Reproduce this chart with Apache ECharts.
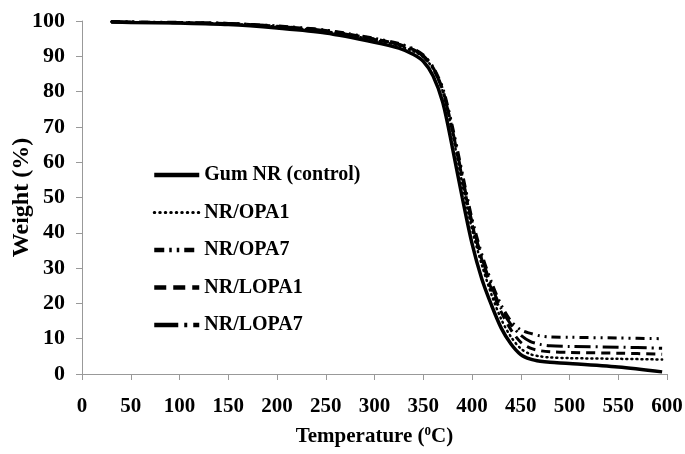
<!DOCTYPE html>
<html><head><meta charset="utf-8">
<script src="https://cdn.jsdelivr.net/npm/echarts@6/dist/echarts.min.js"></script>
<style>html,body{margin:0;padding:0;background:#fff}#c{width:685px;height:454px}</style>
</head><body><div id="c"></div>
<script>
const temps = [30, 50, 100, 150, 200, 250, 300, 325, 340, 350, 360, 370, 380, 390, 400, 410, 420, 430, 440, 450, 460, 470, 480, 500, 550, 595];
const gumNR = [99.7, 99.6, 99.4, 99.0, 98.0, 96.6, 94.0, 92.3, 90.5, 88.6, 84.5, 77, 64, 50, 37, 27, 19.5, 13, 8.5, 5.5, 4.2, 3.6, 3.3, 3.0, 2.0, 0.6];
const opa1 = [99.8, 99.7, 99.5, 99.2, 98.4, 97.1, 94.6, 93.0, 91.4, 89.8, 86.5, 80, 68, 54, 41, 31, 22.5, 15.5, 10.5, 7.2, 5.6, 5.0, 4.7, 4.5, 4.3, 4.1];
const opa7 = [99.8, 99.7, 99.6, 99.3, 98.6, 97.4, 95.1, 93.6, 92.1, 90.4, 87, 81, 70, 57, 44, 34, 26, 19.5, 15, 12.5, 11.5, 10.8, 10.5, 10.4, 10.2, 10.0];
const lopa1 = [99.8, 99.7, 99.5, 99.3, 98.5, 97.3, 94.9, 93.4, 91.9, 90.2, 86.8, 80.5, 69, 55.5, 42.5, 32.5, 24, 17.5, 12.5, 9, 7.3, 6.6, 6.3, 6.1, 5.9, 5.6];
const lopa7 = [99.8, 99.7, 99.5, 99.3, 98.5, 97.2, 94.8, 93.3, 91.8, 90.0, 86.6, 80.2, 69, 56, 43, 33, 25, 18.5, 14, 11, 9.2, 8.4, 8.0, 7.8, 7.6, 7.3];
const seriesNames = ['Gum NR (control)', 'NR/OPA1', 'NR/OPA7', 'NR/LOPA1', 'NR/LOPA7'];
const xTicks = [0, 50, 100, 150, 200, 250, 300, 350, 400, 450, 500, 550, 600];
const yTicks = [0, 10, 20, 30, 40, 50, 60, 70, 80, 90, 100];

const values = [gumNR, opa1, opa7, lopa1, lopa7];
const styles = [
  {width: 3.5, type: 'solid'},
  {width: 2.5, type: [1, 4], cap: 'round'},
  {width: 3, type: [9, 5, 2, 5, 2, 5]},
  {width: 3, type: [9, 6]},
  {width: 3, type: [16, 5, 2, 5]}
];
const legendStyles = [
  {width: 4.5, type: 'solid'},
  {width: 3, type: [0.5, 5], cap: 'round'},
  {width: 4.5, type: [10, 5, 2.5, 5, 2.5, 5]},
  {width: 4.5, type: [12, 7]},
  {width: 4.5, type: [24, 6, 3, 6]}
];
const font = '"Liberation Serif", "Times New Roman", serif';
const chart = echarts.init(document.getElementById('c'));
chart.setOption({
  animation: false,
  grid: {left: 82, right: 18, top: 21, bottom: 80, outerBoundsMode: 'none', containLabel: false},
  legend: {
    orient: 'vertical', left: 152, top: 165, padding: 0,
    itemWidth: 45, itemHeight: 14, itemGap: 17.5,
    itemStyle: {opacity: 0, borderWidth: 0},
    textStyle: {fontFamily: font, fontWeight: 'bold', fontSize: 20, color: '#000', lineHeight: 20},
    data: seriesNames.map((n, i) => ({
      name: n,
      lineStyle: {width: legendStyles[i].width, type: legendStyles[i].type, cap: legendStyles[i].cap || 'butt', color: '#000'}
    }))
  },
  xAxis: {
    type: 'value', min: xTicks[0], max: xTicks[xTicks.length - 1], interval: 50,
    name: '{t|Temperature (}{s|0}{t|C)}', nameLocation: 'middle', nameGap: 51, nameMoveOverlap: false,
    nameTextStyle: {rich: {
      t: {fontFamily: font, fontWeight: 'bold', fontSize: 21, color: '#000', lineHeight: 23},
      s: {fontFamily: font, fontWeight: 'bold', fontSize: 13, color: '#000', lineHeight: 13, verticalAlign: 'top'}
    }},
    axisLine: {lineStyle: {color: '#999', width: 1}},
    axisTick: {show: true, length: 6, lineStyle: {color: '#999'}},
    axisLabel: {fontFamily: font, fontWeight: 'bold', fontSize: 21, color: '#000', margin: 22},
    splitLine: {show: false}
  },
  yAxis: {
    type: 'value', min: yTicks[0], max: yTicks[yTicks.length - 1], interval: 10,
    name: 'Weight (%)', nameLocation: 'middle', nameGap: 48, nameMoveOverlap: false,
    nameTextStyle: {fontFamily: font, fontWeight: 'bold', fontSize: 24, color: '#000'},
    axisLine: {show: true, lineStyle: {color: '#999', width: 1}},
    axisTick: {show: true, length: 6, lineStyle: {color: '#999'}},
    axisLabel: {fontFamily: font, fontWeight: 'bold', fontSize: 22, color: '#000', margin: 17},
    splitLine: {show: false}
  },
  series: seriesNames.map((n, i) => ({
    name: n, type: 'line', smooth: 0.3, showSymbol: false, symbol: 'none',
    data: temps.map((t, j) => [t, values[i][j]]),
    lineStyle: {color: '#000', width: styles[i].width, type: styles[i].type, cap: styles[i].cap || 'butt'},
    itemStyle: {color: '#000'}
  }))
});
</script>
</body></html>
